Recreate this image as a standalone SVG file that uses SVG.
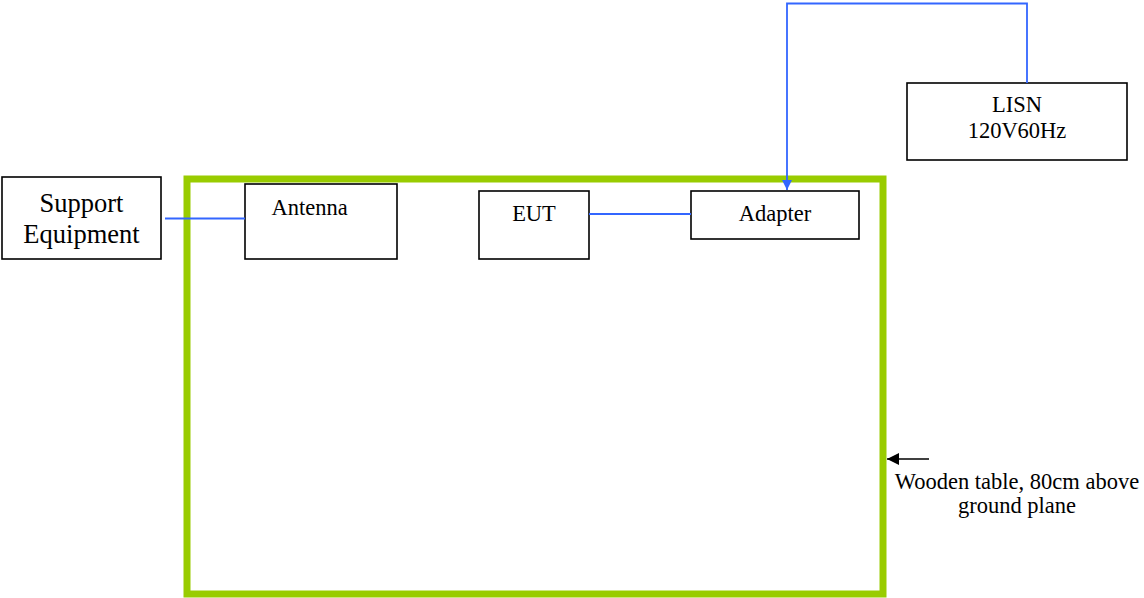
<svg xmlns="http://www.w3.org/2000/svg" width="1144" height="598" viewBox="0 0 1144 598">
<style>
.box{fill:#fff;stroke:#000;stroke-width:1.6}
.t{font-family:"Liberation Serif","Times New Roman",serif;font-size:22.5px;fill:#000}
.c{text-anchor:middle}
.w{fill:none;stroke:#3366ff;stroke-width:1.8}
</style>
<defs>
<marker id="ab" viewBox="0 0 10 10" refX="10" refY="5" markerWidth="10" markerHeight="10" markerUnits="userSpaceOnUse" orient="auto"><path d="M0,0L10,5L0,10z" fill="#3366ff"/></marker>
<marker id="ak" viewBox="0 0 10 10" refX="10" refY="5" markerWidth="12" markerHeight="12" markerUnits="userSpaceOnUse" orient="auto"><path d="M0,0L10,5L0,10z" fill="#000"/></marker>
</defs>
<rect x="0" y="0" width="1144" height="598" fill="#fff"/>
<g id="table">
<rect x="187" y="179" width="696" height="415" fill="none" stroke="#99cc00" stroke-width="7"/>
</g>
<g id="support">
<rect class="box" x="2" y="177" width="159" height="82"/>
<text class="t c" x="81.5" y="212" style="font-size:26.5px">Support</text>
<text class="t c" x="81.5" y="243" style="font-size:26.5px">Equipment</text>
</g>
<g id="antenna">
<rect class="box" x="245" y="184" width="152" height="75"/>
<text class="t" x="271.5" y="215">Antenna</text>
</g>
<g id="eut">
<rect class="box" x="479" y="191" width="110" height="68"/>
<text class="t c" x="534" y="221">EUT</text>
</g>
<g id="adapter">
<rect class="box" x="691" y="191" width="168" height="48"/>
<text class="t c" x="775" y="221">Adapter</text>
</g>
<g id="lisn">
<rect class="box" x="907" y="83" width="220" height="77"/>
<text class="t c" x="1017" y="112">LISN</text>
<text class="t c" x="1017" y="138">120V60Hz</text>
</g>
<g id="label">
<text class="t c" x="1017" y="489">Wooden table, 80cm above</text>
<text class="t c" x="1017" y="513">ground plane</text>
</g>
<g id="connectors">
<line class="w" x1="165" y1="218.5" x2="245" y2="218.5"/>
<line class="w" x1="589" y1="214" x2="691" y2="214"/>
<polyline class="w" points="1027,83 1027,3.5 787,3.5 787,190" marker-end="url(#ab)"/>
<line x1="929" y1="459" x2="887" y2="459" stroke="#000" stroke-width="1.6" marker-end="url(#ak)"/>
</g>
</svg>
